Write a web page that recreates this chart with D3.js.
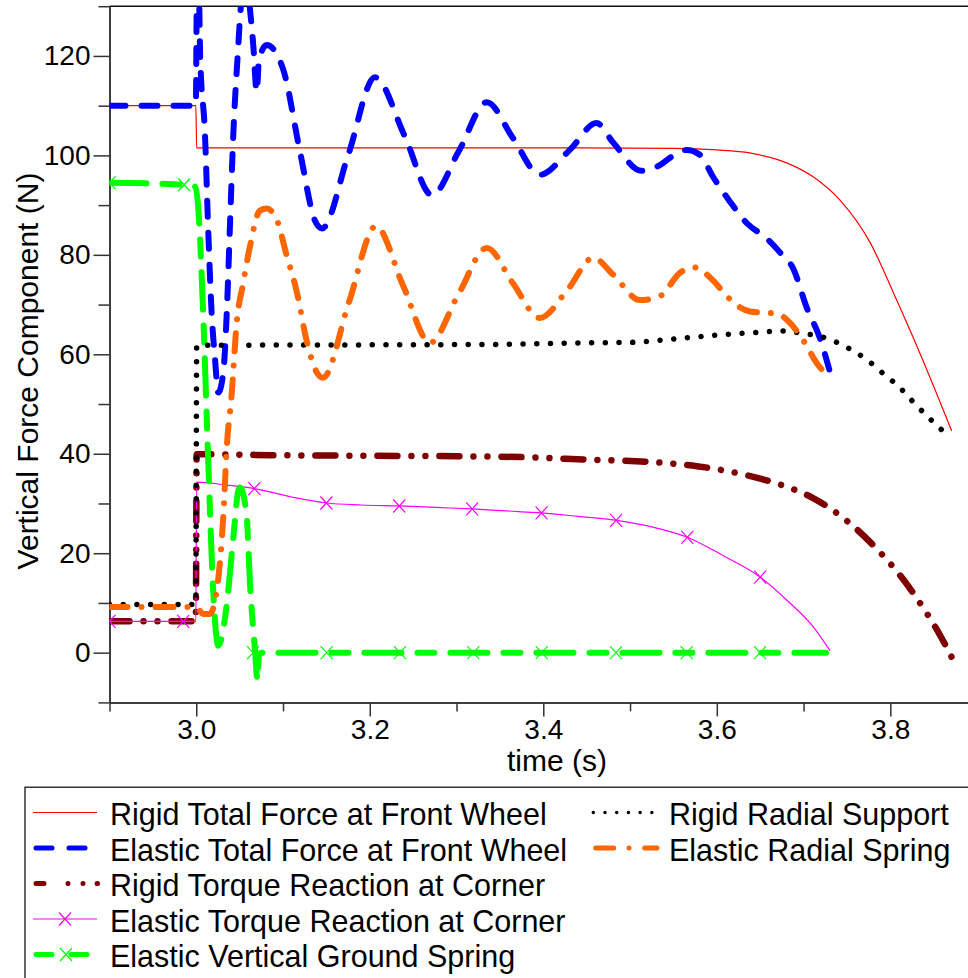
<!DOCTYPE html>
<html><head><meta charset="utf-8">
<script src="https://cdn.jsdelivr.net/npm/d3@7"></script>
<style>body{margin:0;background:#fff;} svg{display:block;}</style>
</head><body><svg id="c" width="968" height="978"></svg>
<script>
// ---------- data (time s, vertical force N) ----------
const rigidTotal = [[2.9,110],[2.9995,110],[3.0005,101.5],[3.2,101.5],[3.4,101.5],[3.55,101.4],[3.6,101.1],[3.638,100.5],[3.6805,98.5],[3.711,95.7],[3.742,91.0],[3.7766,82.5],[3.8073,70.9],[3.838,58.6],[3.8707,44.6]];
const elasticTotal = [[2.9,110],[2.9995,110],[3.0005,130],[3.002,140],[3.0035,130],[3.0045,120],[3.010,104.4],[3.0139,84.4],[3.0178,68.1],[3.0216,59.1],[3.0254,52.3],[3.0312,56.4],[3.0351,68.1],[3.0389,86.2],[3.0427,104.2],[3.0485,122.2],[3.0504,127.6],[3.056,136],[3.0619,129.4],[3.0657,122.2],[3.0697,112.8],[3.0723,119.2],[3.0812,122.2],[3.1,117.4],[3.1196,100.7],[3.137,86.8],[3.145,85.3],[3.175,100],[3.206,115.7],[3.24,104],[3.2717,92],[3.303,101],[3.335,110.7],[3.365,103.5],[3.396,96.1],[3.43,101],[3.4615,106.5],[3.48,102.7],[3.5134,96.9],[3.5307,97.7],[3.5495,99.9],[3.5653,101.1],[3.5806,100.1],[3.5956,95.7],[3.6152,90.7],[3.6344,86.4],[3.6575,83.3],[3.6728,80.5],[3.6882,77.2],[3.7036,69.4],[3.7189,63.2],[3.7305,56.4]];
const rigidTorque = [[2.9,6.3],[2.9995,6.3],[3.0005,39.9],[3.1,39.7],[3.2,39.6],[3.3,39.5],[3.38,39.3],[3.454,38.8],[3.519,38.4],[3.577,37.5],[3.634,35.7],[3.673,33.8],[3.711,31.1],[3.75,26.5],[3.788,20.2],[3.811,15.6],[3.838,9.0],[3.857,3.6],[3.871,-1.0]];
const elasticTorque = [[2.9,6.3],[2.9995,6.3],[3.0005,34.3],[3.035,33.7],[3.067,33.0],[3.11,31.3],[3.15,30.1],[3.19,29.7],[3.234,29.5],[3.276,29.2],[3.318,28.9],[3.358,28.5],[3.398,28.1],[3.44,27.4],[3.484,26.6],[3.525,25.3],[3.566,23.2],[3.6075,19.5],[3.65,15.2],[3.6805,10.6],[3.7112,5.2],[3.7305,0.4]];
const elasticTorqueMarks = [[2.9,6.3],[2.985,6.3],[3.067,33.0],[3.15,30.1],[3.234,29.5],[3.318,28.9],[3.398,28.1],[3.484,26.6],[3.566,23.2],[3.65,15.2]];
const elasticGround = [[2.9,94.5],[2.985,94.1],[2.9985,93.7],[3.0025,89],[3.008,68],[3.0135,40],[3.0196,12.2],[3.0254,1.4],[3.0351,9.6],[3.0427,23.1],[3.0485,32.6],[3.0504,33.2],[3.0581,27.5],[3.0619,14],[3.0677,0.5],[3.0706,-5.5],[3.0723,-0.5],[3.075,0],[3.726,0]];
const elasticGroundMarks = [[2.9,94.5],[2.986,94.1],[3.0655,0],[3.1503,0],[3.2348,0],[3.3193,0],[3.3982,0],[3.4838,0],[3.5653,0],[3.6498,0]];
const rigidRadial = [[2.9,9.7],[2.9995,9.7],[3.0005,61.8],[3.2,61.9],[3.35,62.0],[3.446,62.3],[3.5,62.4],[3.546,63.0],[3.596,63.8],[3.646,64.4],[3.677,64.7],[3.696,64.3],[3.727,63.2],[3.75,61.4],[3.773,58.9],[3.792,56.1],[3.811,53.3],[3.8265,50.4],[3.844,47.3],[3.863,44.2]];
const elasticRadial = [[2.9,9.2],[2.9995,9.2],[3.008,7.8],[3.016,7.8],[3.021,10],[3.0254,14.9],[3.0312,27.5],[3.0351,41.1],[3.0408,51.9],[3.0466,66.3],[3.0542,74.4],[3.0619,81.7],[3.0734,88.9],[3.0812,89.3],[3.0927,87.1],[3.1042,79.9],[3.1158,72.6],[3.1273,62.7],[3.1388,56.4],[3.146,55.3],[3.176,70.5],[3.207,85.8],[3.238,74],[3.2694,62.3],[3.302,72],[3.335,81.4],[3.365,74.3],[3.396,67.3],[3.428,73],[3.4576,79.4],[3.4807,76],[3.5115,70.9],[3.5345,71.7],[3.5576,76.4],[3.5729,77.5],[3.596,74.8],[3.6114,71.7],[3.6383,68.6],[3.6517,68.4],[3.669,68.2],[3.6844,66.3],[3.6997,62.8],[3.717,57.8],[3.7305,55.4]];

const xDomain = [2.9, 3.89];
const yDomain = [-10, 130];
const xMajorTicks = [3.0, 3.2, 3.4, 3.6, 3.8];
const xMinorTicks = [2.9, 3.1, 3.3, 3.5, 3.7];
const yMajorTicks = [0, 20, 40, 60, 80, 100, 120];
const yMinorTicks = [-10, 10, 30, 50, 70, 90, 110, 130];
const xTitle = "time (s)";
const yTitle = "Vertical Force Component (N)";
const seriesKeys = ["rigidTotal","elasticTotal","rigidTorque","elasticTorque","elasticGround","rigidRadial","elasticRadial"];
const seriesLabels = ["Rigid Total Force at Front Wheel","Elastic Total Force at Front Wheel","Rigid Torque Reaction at Corner","Elastic Torque Reaction at Corner","Elastic Vertical Ground Spring","Rigid Radial Support","Elastic Radial Spring"];

// ---------- styles ----------
const FONT = "'Liberation Sans', Arial, Helvetica, sans-serif";
const style = {
  rigidTotal:   {color:"#ff0000", width:1.2, dash:null},
  elasticTotal: {color:"#0000ff", width:6,   dash:"16 16"},
  rigidTorque:  {color:"#7f0000", width:6.5, dash:"20 14 0.01 14 0.01 14"},
  elasticTorque:{color:"#ff00ff", width:1.2, dash:null},
  elasticGround:{color:"#00ff00", width:6,   dash:"37 16 17 16"},
  rigidRadial:  {color:"#000000", width:5.5, dash:"0.01 13.7"},
  elasticRadial:{color:"#ff6600", width:6,   dash:"18 14 0.01 14"}
};
const seriesData = {rigidTotal, elasticTotal, rigidTorque, elasticTorque, elasticGround, rigidRadial, elasticRadial};

const svg = d3.select("#c");
const x = d3.scaleLinear().domain(xDomain).range([109.5, 968.4]);
const y = d3.scaleLinear().domain(yDomain).range([702.4, 6.2]);

svg.append("defs").append("clipPath").attr("id","plotclip")
  .append("rect").attr("x", x(xDomain[0])).attr("y", y(yDomain[1]))
  .attr("width", x(xDomain[1]) - x(xDomain[0])).attr("height", y(yDomain[0]) - y(yDomain[1]));

// ---------- axes ----------
const axisColor = "#333";
function styleAxis(g){
  g.attr("font-family", FONT).attr("font-size", 28).attr("color", axisColor);
  g.selectAll("path,line").attr("stroke-width", 1.5);
  g.selectAll("text").attr("fill", "#000");
}
svg.append("g").attr("transform", `translate(${x(xDomain[0])},0)`)
  .call(d3.axisLeft(y).tickValues(yMinorTicks).tickSize(11).tickSizeOuter(0).tickFormat(""))
  .call(styleAxis);
svg.append("g").attr("transform", `translate(${x(xDomain[0])},0)`)
  .call(d3.axisLeft(y).tickValues(yMajorTicks).tickSize(16).tickPadding(3).tickSizeOuter(0).tickFormat(d3.format("d")))
  .call(styleAxis);
svg.append("g").attr("transform", `translate(0,${y(yDomain[0])})`)
  .call(d3.axisBottom(x).tickValues(xMinorTicks).tickSize(9).tickSizeOuter(0).tickFormat(""))
  .call(styleAxis);
svg.append("g").attr("transform", `translate(0,${y(yDomain[0])})`)
  .call(d3.axisBottom(x).tickValues(xMajorTicks).tickSize(14).tickPadding(2.5).tickSizeOuter(0).tickFormat(d3.format(".1f")))
  .call(styleAxis);
// top frame
svg.append("line").attr("x1", x(xDomain[0])).attr("x2", x(xDomain[1]))
  .attr("y1", y(yDomain[1])).attr("y2", y(yDomain[1])).attr("stroke", "#111").attr("stroke-width", 1.5);

// titles
svg.append("text").attr("x", 557).attr("y", 771).attr("text-anchor","middle")
  .attr("font-family", FONT).attr("font-size", 30).text(xTitle);
svg.append("text").attr("transform","translate(37.5,371) rotate(-90)").attr("text-anchor","middle")
  .attr("font-family", FONT).attr("font-size", 30).text(yTitle);

// ---------- series ----------
const line = d3.line().x(d => x(d[0])).y(d => y(d[1])).curve(d3.curveMonotoneX);
const plot = svg.append("g").attr("clip-path","url(#plotclip)");
const xMark = "M-6,-6.5L6,6.5M-6,6.5L6,-6.5";
function drawMarks(data, color){
  plot.append("g").selectAll("path").data(data).join("path")
    .attr("transform", d => `translate(${x(d[0])},${y(d[1])})`)
    .attr("d", xMark).attr("fill","none").attr("stroke", color).attr("stroke-width", 1.2);
}
seriesKeys.forEach(k => {
  const s = style[k];
  plot.append("path").datum(seriesData[k]).attr("d", line)
    .attr("fill","none").attr("stroke", s.color).attr("stroke-width", s.width)
    .attr("stroke-linecap", s.dash ? "round" : "butt").attr("stroke-linejoin","round")
    .attr("stroke-dasharray", s.dash);
  if (k === "elasticTorque") drawMarks(elasticTorqueMarks, s.color);
  if (k === "elasticGround") drawMarks(elasticGroundMarks, s.color);
});

// ---------- legend ----------
svg.append("path").attr("d", "M25,978V787.3H968").attr("fill","none").attr("stroke","#333").attr("stroke-width",1.5);
const rowY = [812.5, 848, 883.5, 919, 954.5];
const legendPos = seriesKeys.map((k,i) => i < 5 ? {x0:33, x1:97, tx:110, y:rowY[i]} : {x0:592.7, x1:660, tx:669, y:rowY[i-5]});
const lg = svg.append("g");
seriesKeys.forEach((k,i) => {
  const p = legendPos[i], s = style[k];
  const seg = (a,b,w,dash,cap) => lg.append("line").attr("x1",a).attr("x2",b).attr("y1",p.y).attr("y2",p.y)
      .attr("stroke", s.color).attr("stroke-width", w).attr("stroke-linecap", cap||"round").attr("stroke-dasharray", dash);
  if (k === "rigidTotal") seg(p.x0, p.x1, 1.2, null, "butt");
  if (k === "elasticTotal") seg(p.x0+3, p.x1-3, 5, "16 17");
  if (k === "rigidTorque") seg(p.x0+3, p.x1+0.5, 5, "8 24 0.01 15 0.01 14");
  if (k === "elasticTorque") { seg(p.x0, p.x1, 1.2, null, "butt");
    lg.append("path").attr("transform",`translate(${(p.x0+p.x1)/2},${p.y})`).attr("d",xMark).attr("fill","none").attr("stroke",s.color).attr("stroke-width",1.2); }
  if (k === "elasticGround") { seg(p.x0+3, p.x1-7, 5, "16 19");
    lg.append("path").attr("transform",`translate(${p.x0+33},${p.y})`).attr("d",xMark).attr("fill","none").attr("stroke",s.color).attr("stroke-width",1.2); }
  if (k === "rigidRadial") seg(p.x0+0.6, p.x1, 3.5, "0.01 11.7");
  if (k === "elasticRadial") seg(p.x0+3, p.x1-3, 5, "18 15.3 0.01 15.7 20");
  lg.append("text").attr("x", p.tx).attr("y", p.y + 12.5).attr("font-family", FONT).attr("font-size", 30.5)
    .attr("fill","#000").text(seriesLabels[i]);
});
</script>
</body></html>
